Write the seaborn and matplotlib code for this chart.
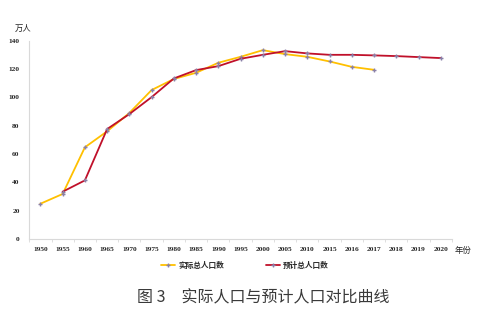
import numpy as np
import pandas as pd
import matplotlib
matplotlib.use("Agg")
import matplotlib.pyplot as plt
import seaborn as sns

years = ["1950", "1955", "1960", "1965", "1970", "1975", "1980", "1985", "1990",
         "1995", "2000", "2005", "2010", "2015", "2016", "2017", "2018", "2019", "2020"]
actual = [24.8, 31.7, 64.7, 76.0, 89.0, 105.2, 113.0, 117.4, 124.5,
          128.7, 133.4, 130.6, 128.7, 125.4, 121.6, 119.5, np.nan, np.nan, np.nan]
predicted = [np.nan, 33.3, 41.3, 77.6, 88.2, 100.2, 113.4, 119.3, 122.1,
             127.3, 130.1, 132.7, 131.1, 130.1, 130.1, 129.7, 129.2, 128.5, 127.8]
series_names = ["实际总人口数", "预计总人口数"]
series_colors = ["#FFC000", "#C0102A"]
yticks = [0, 20, 40, 60, 80, 100, 120, 140]

sns.set_theme(style="white")
plt.rcParams["font.family"] = ["Noto Sans CJK SC", "DejaVu Sans"]

pos = np.arange(len(years))
df = pd.DataFrame({
    "pos": np.concatenate([pos, pos]),
    "value": actual + predicted,
    "series": [series_names[0]] * len(years) + [series_names[1]] * len(years),
}).dropna()

fig = plt.figure(figsize=(4.88, 3.24), dpi=100)
ax = fig.add_axes([0.060, 0.263, 0.866, 0.611])

sns.lineplot(data=df, x="pos", y="value", hue="series", hue_order=series_names,
             palette=series_colors, linewidth=1.3, marker="+", markersize=3.5,
             markeredgewidth=1.0, markeredgecolor="#8A80A8", ax=ax, legend=True)

ax.set_xlim(-0.5, len(years) - 0.5)
ax.set_ylim(0, 140)
ax.set_xticks(pos)
ax.set_xticklabels(years, fontfamily="Liberation Serif", fontweight="bold", fontsize=5.3)
ax.set_xticks(np.arange(-0.5, len(years), 1), minor=True)
ax.set_yticks(yticks)
ax.set_yticklabels([str(t) for t in yticks], fontfamily="Liberation Serif",
                   fontweight="bold", fontsize=5.3)
ax.tick_params(axis="x", which="major", length=0, pad=6)
ax.tick_params(axis="x", which="minor", length=2.5, color="#D9D9D9", width=0.6,
               direction="out", bottom=True)
ax.tick_params(axis="y", length=0, pad=7)
ax.set_xlabel("")
ax.set_ylabel("")
for side in ["top", "right"]:
    ax.spines[side].set_visible(False)
for side in ["left", "bottom"]:
    ax.spines[side].set_color("#D9D9D9")
    ax.spines[side].set_linewidth(0.8)

ax.get_legend().remove()
handles, labels = ax.get_legend_handles_labels()
fig.legend(handles, labels, loc="center", bbox_to_anchor=(0.502, 0.182), ncol=2,
           frameon=False, prop={"size": 5.5, "weight": "bold"},
           handlelength=1.8, columnspacing=5.5, handletextpad=0.4)

fig.text(0.03, 0.913, "万人", fontsize=6, color="#222222", ha="left", va="center")
fig.text(0.932, 0.228, "年份", fontsize=6, color="#222222", ha="left", va="center")
fig.text(0.54, 0.080, "图 3　实际人口与预计人口对比曲线", fontsize=11.5,
         color="#3A3A3A", ha="center", va="center")

fig.savefig("out.png", dpi=100)
